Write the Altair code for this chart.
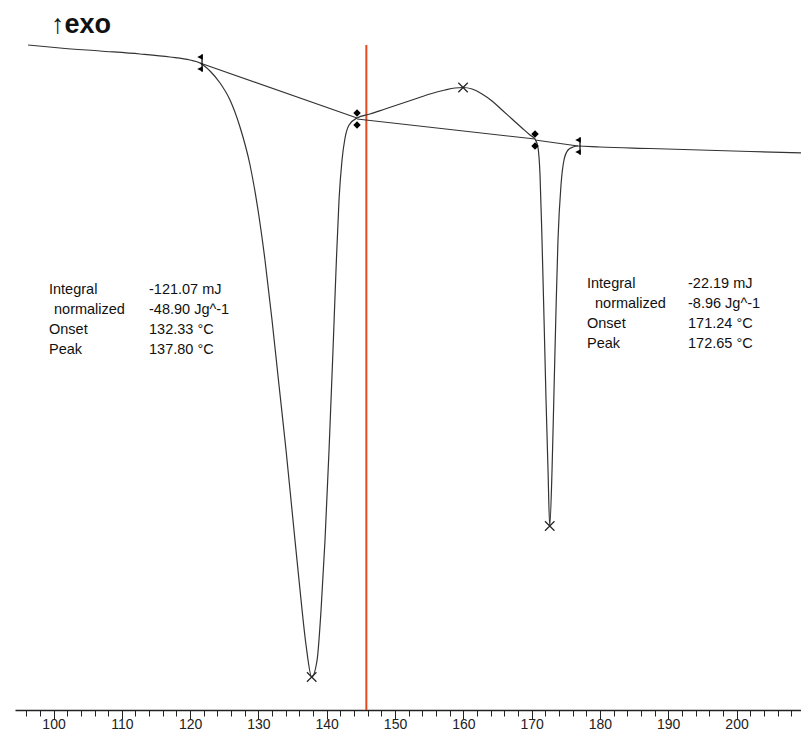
import altair as alt
import pandas as pd

# ---- DSC curve (temperature in °C, heat flow in arbitrary mW units) ----
curve_T = [96.27, 100.95, 106.81, 112.66, 117.06, 119.99, 121.45, 122.91, 124.38, 125.84,
           127.30, 128.77, 129.94, 130.96, 131.99, 133.01, 134.04, 135.06, 136.09, 136.97,
           137.80, 138.59, 139.17, 139.75, 140.34, 140.92, 141.36, 141.80, 142.24,
           142.68, 143.27, 144.44, 146.34, 148.54, 150.73, 152.93, 155.12, 157.32, 158.78,
           159.96, 161.28, 162.74, 164.20, 165.67, 167.13, 168.59, 169.76, 170.50, 170.94,
           171.23, 171.52, 171.82, 172.11, 172.40, 172.65, 172.99, 173.28, 173.57, 173.86,
           174.30, 174.74, 175.33, 176.06, 176.79, 180.01, 187.33, 194.65, 201.98, 210.30]
curve_mW = [0.30, 0.24, 0.18, 0.12, 0.06, 0.00, -0.06, -0.22, -0.46, -0.80,
            -1.34, -2.10, -3.00, -4.00, -5.20, -6.50, -7.80, -9.20, -10.60, -11.70,
            -12.34, -12.00, -11.00, -9.60, -7.80, -5.80, -4.20, -2.80, -2.00,
            -1.56, -1.30, -1.16, -1.08, -0.98, -0.88, -0.78, -0.68, -0.60, -0.56,
            -0.55, -0.58, -0.68, -0.82, -1.00, -1.18, -1.36, -1.50, -1.58, -1.76,
            -2.30, -3.60, -5.20, -6.80, -8.20, -9.32, -8.20, -6.60, -5.00, -3.60,
            -2.50, -2.00, -1.80, -1.74, -1.72, -1.74, -1.77, -1.80, -1.83, -1.86]

# integration baselines (segment id, T, mW)
base_seg = [1, 1, 2, 2, 3, 3]
base_T = [121.45, 144.44, 144.44, 170.50, 170.50, 176.79]
base_mW = [-0.06, -1.16, -1.18, -1.58, -1.60, -1.72]

# integration limit markers
diamond_T = [144.44, 170.50]
diamond_mW = [-1.18, -1.60]
limit_T = [121.45, 176.79]
limit_mW = [-0.06, -1.72]

# peak markers
peak_T = [137.80, 159.96, 172.65]
peak_mW = [-12.34, -0.55, -9.32]

# vertical cursor
cursor_T = [145.8]

# result tables
row_labels = ["Integral", "normalized", "Onset", "Peak"]
row_indent = [False, True, False, False]
left_values = ["-121.07 mJ", "-48.90 Jg^-1", "132.33 °C", "137.80 °C"]
right_values = ["-22.19 mJ", "-8.96 Jg^-1", "171.24 °C", "172.65 °C"]
corner_label = "↑exo"

tick_values = list(range(96, 212, 2))

FONT = "Liberation Sans, Arial, sans-serif"
INK = "#333333"

x_scale = alt.Scale(domain=[94.36, 209.44], nice=False, zero=False)
y_scale = alt.Scale(domain=[-13.0, 0.4], nice=False, zero=False)
x_axis = alt.Axis(
    title=None, grid=False, values=tick_values,
    labelExpr="datum.value % 10 === 0 ? datum.label : ''",
    tickSize={"condition": {"test": "datum.value % 10 === 0", "value": 9}, "value": 6},
    domainColor="#222222", domainWidth=1.6, tickColor="#222222", tickWidth=1,
    labelFont=FONT, labelFontSize=14, labelColor="#222222",
    labelBaseline="alphabetic", labelPadding=9,
    labelOverlap=False, labelFlush=False,
)
X = alt.X("T:Q", scale=x_scale, axis=x_axis)
Y = alt.Y("mW:Q", scale=y_scale, axis=None)

curve_df = pd.DataFrame({"T": curve_T, "mW": curve_mW, "i": range(len(curve_T))})
base_df = pd.DataFrame({"seg": base_seg, "T": base_T, "mW": base_mW})
diam_df = pd.DataFrame({"T": diamond_T, "mW": diamond_mW})
lim_df = pd.DataFrame({"T": limit_T, "mW": limit_mW})
peak_df = pd.DataFrame({"T": peak_T, "mW": peak_mW})
cur_df = pd.DataFrame({"T": cursor_T})

cursor = alt.Chart(cur_df).mark_rule(color="#E4491F", strokeWidth=2).encode(
    x=X, y=alt.value(5), y2=alt.value(670))

curve = alt.Chart(curve_df).mark_line(color=INK, strokeWidth=1.2, interpolate="monotone").encode(
    x=X, y=Y, order="i:Q")

baselines = alt.Chart(base_df).mark_line(color=INK, strokeWidth=1.1).encode(
    x=X, y=Y, detail="seg:N")

diam_up = alt.Chart(diam_df).mark_point(shape="diamond", filled=True, size=55, color="#000000",
                                        opacity=1, yOffset=-6).encode(x=X, y=Y)
diam_dn = alt.Chart(diam_df).mark_point(shape="diamond", filled=True, size=55, color="#000000",
                                        opacity=1, yOffset=6).encode(x=X, y=Y)
lim_up = alt.Chart(lim_df).mark_point(shape="M1,-1L1,1L-1,0Z", filled=True, size=30, color="#000000",
                                      opacity=1, yOffset=-6).encode(x=X, y=Y)
lim_dn = alt.Chart(lim_df).mark_point(shape="M1,-1L1,1L-1,0Z", filled=True, size=30, color="#000000",
                                      opacity=1, yOffset=6).encode(x=X, y=Y)
lim_bar = alt.Chart(lim_df).mark_point(shape="M0,-1L0,1", filled=False, size=300, color="#000000",
                                       strokeWidth=1.2, opacity=1, xOffset=2).encode(x=X, y=Y)
crosses = alt.Chart(peak_df).mark_point(shape="M-1,-1L1,1M-1,1L1,-1", filled=False, size=90,
                                        color="#222222", strokeWidth=1.2, opacity=1).encode(x=X, y=Y)


def text_mark(s, x, y, **kw):
    opts = dict(align="left", baseline="alphabetic", font=FONT, fontSize=14.5, color="#111111")
    opts.update(kw)
    return alt.Chart(pd.DataFrame({"t": [s]})).mark_text(**opts).encode(
        text="t:N", x=alt.value(x), y=alt.value(y))


def block(values, x_lab, x_val, y0, indent):
    marks = []
    for i, (lab, ind, val) in enumerate(zip(row_labels, row_indent, values)):
        y = y0 + 20 * i
        marks.append(text_mark(lab, x_lab + (indent if ind else 0), y))
        marks.append(text_mark(val, x_val, y))
    return marks


left_block = block(left_values, 34, 134, 253.5, 5)
right_block = block(right_values, 572, 673, 247.5, 8)

corner = text_mark(corner_label, 36, -7, font="Liberation Sans, DejaVu Sans, sans-serif",
                   fontSize=27, fontWeight="bold")

chart = alt.layer(
    cursor, baselines, curve, diam_up, diam_dn, lim_up, lim_dn, lim_bar, crosses,
    *left_block, *right_block, corner
).properties(
    width=786, height=670,
    padding={"left": 7, "top": 32, "right": 0, "bottom": 23},
    autosize=alt.AutoSizeParams(type="none"),
).configure_view(stroke=None)

chart.save("out.html", embed_options={"renderer": "svg", "actions": False})
